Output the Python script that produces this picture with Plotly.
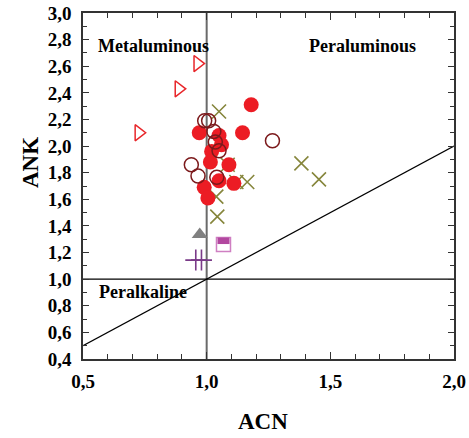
import plotly.graph_objects as go

# ACN / ANK values per sample group
filled_acn = [1.18, 0.97, 1.145, 1.05, 1.06, 1.02, 1.015, 1.09, 1.05, 1.11, 0.99, 1.005]
filled_ank = [2.31, 2.10, 2.10, 2.08, 2.01, 1.96, 1.88, 1.86, 1.74, 1.72, 1.69, 1.61]

open_acn = [0.992, 1.008, 1.029, 1.035, 1.050, 1.266, 0.938, 0.965, 1.041]
open_ank = [2.19, 2.19, 2.11, 2.03, 1.965, 2.04, 1.86, 1.775, 1.765]

tri_acn = [0.963, 0.887, 0.725]
tri_ank = [2.62, 2.43, 2.10]

x_acn = [1.05, 1.085, 1.12, 1.164, 1.039, 1.043, 1.383, 1.454]
x_ank = [2.26, 1.86, 1.73, 1.73, 1.62, 1.47, 1.87, 1.75]

gray_acn = [0.972]
gray_ank = [1.335]

square_acn = [1.068]
square_ank = [1.26]

plus_acn = [0.956, 0.979]
plus_ank = [1.143, 1.143]

# Field boundaries
vert_x, vert_y = [1.0, 1.0], [0.4, 3.0]
horiz_x, horiz_y = [0.5, 2.0], [1.0, 1.0]
diag_x, diag_y = [0.5, 2.0], [0.5, 2.0]

x_ticks = [0.5, 1.0, 1.5, 2.0]
y_ticks = [0.4, 0.6, 0.8, 1.0, 1.2, 1.4, 1.6, 1.8, 2.0, 2.2, 2.4, 2.6, 2.8, 3.0]

FONT = "Liberation Serif"


def comma_label(v):
    return "<b>" + f"{v:.1f}".replace(".", ",") + "</b>"


fig = go.Figure()

fig.add_trace(go.Scatter(x=vert_x, y=vert_y, mode="lines",
                         line=dict(color="#6a6a6a", width=2), hoverinfo="skip"))
fig.add_trace(go.Scatter(x=horiz_x, y=horiz_y, mode="lines",
                         line=dict(color="black", width=1.2), hoverinfo="skip"))
fig.add_trace(go.Scatter(x=diag_x, y=diag_y, mode="lines",
                         line=dict(color="black", width=1.2), hoverinfo="skip"))

fig.add_trace(go.Scatter(x=x_acn, y=x_ank, mode="markers",
                         marker=dict(symbol="x-thin-open", size=14, color="#86863c",
                                     line=dict(color="#86863c", width=1.6))))
fig.add_trace(go.Scatter(x=filled_acn, y=filled_ank, mode="markers",
                         marker=dict(symbol="circle", size=15, color="#ec1c24",
                                     line=dict(width=0))))
fig.add_trace(go.Scatter(x=open_acn, y=open_ank, mode="markers",
                         marker=dict(symbol="circle-open", size=14, color="#7c1a1c",
                                     line=dict(color="#7c1a1c", width=1.5))))
fig.add_trace(go.Scatter(x=tri_acn, y=tri_ank, mode="markers",
                         marker=dict(symbol="triangle-right-open", size=14, color="#e8262a",
                                     line=dict(color="#e8262a", width=1.5))))
fig.add_trace(go.Scatter(x=gray_acn, y=gray_ank, mode="markers",
                         marker=dict(symbol="triangle-up", size=14, color="#808080",
                                     line=dict(width=0))))
fig.add_trace(go.Scatter(x=square_acn, y=square_ank, mode="markers",
                         marker=dict(symbol="square-open", size=14, color="#cf7fc2",
                                     line=dict(color="#cf7fc2", width=1.5))))
fig.add_trace(go.Scatter(x=plus_acn, y=plus_ank, mode="markers",
                         marker=dict(symbol="cross-thin-open", size=15, color="#7a3a88",
                                     line=dict(color="#7a3a88", width=1.6))))

# Upper half of the half-filled square, anchored on its data point
fig.add_shape(type="rect", xref="x", yref="y",
              xsizemode="pixel", ysizemode="pixel",
              xanchor=square_acn[0], yanchor=square_ank[0],
              x0=-6, x1=6, y0=0.5, y1=7,
              fillcolor="#b2479f", line=dict(width=0), layer="above")

fig.add_annotation(x=0.551, y=2.75, text="<b>Metaluminous</b>", showarrow=False,
                   xanchor="left", yanchor="middle", font=dict(family=FONT, size=18, color="black"))
fig.add_annotation(x=1.405, y=2.75, text="<b>Peraluminous</b>", showarrow=False,
                   xanchor="left", yanchor="middle", font=dict(family=FONT, size=18, color="black"))
fig.add_annotation(x=0.556, y=0.905, text="<b>Peralkaline</b>", showarrow=False,
                   xanchor="left", yanchor="middle", font=dict(family=FONT, size=18, color="black"))

fig.add_annotation(xref="paper", yref="paper", x=-0.143, y=0.569, text="<b>ANK</b>",
                   textangle=-90, showarrow=False, xanchor="center", yanchor="middle",
                   font=dict(family=FONT, size=23, color="black"))
fig.add_annotation(xref="paper", yref="paper", x=0.485, y=-0.182, text="<b>ACN</b>",
                   showarrow=False, xanchor="center", yanchor="middle",
                   font=dict(family=FONT, size=23, color="black"))

axis_common = dict(showgrid=False, zeroline=False, showline=True, linecolor="#333333",
                   linewidth=1.5, mirror="allticks", ticks="inside", tickcolor="#333333",
                   tickwidth=1.2, automargin=False,
                   tickfont=dict(family=FONT, size=19, color="black"))

fig.update_xaxes(range=[0.5, 2.0], tickmode="array", tickvals=x_ticks,
                 ticktext=[comma_label(v) for v in x_ticks], ticklen=7,
                 ticklabelstandoff=4,
                 minor=dict(dtick=0.1, tick0=0.5, ticks="inside", ticklen=5,
                            tickcolor="#333333", tickwidth=1.2),
                 **axis_common)
fig.update_yaxes(range=[0.4, 3.0], tickmode="array", tickvals=y_ticks,
                 ticktext=[comma_label(v) for v in y_ticks], ticklen=6,
                 ticklabelstandoff=6,
                 minor=dict(dtick=0.1, tick0=0.4, ticks="inside", ticklen=4,
                            tickcolor="#333333", tickwidth=1.2),
                 **axis_common)

fig.update_layout(width=469, height=438, showlegend=False,
                  plot_bgcolor="white", paper_bgcolor="white",
                  margin=dict(l=83, r=15, t=13, b=79))

fig.write_html("out.html")
